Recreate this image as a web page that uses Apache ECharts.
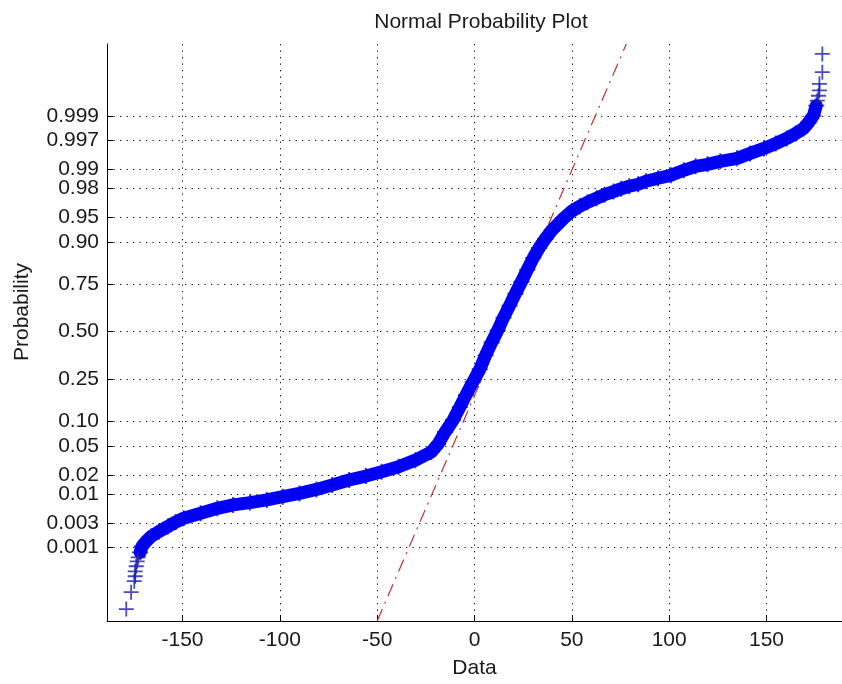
<!DOCTYPE html>
<html><head><meta charset="utf-8">
<script src="https://cdn.jsdelivr.net/npm/echarts@6/dist/echarts.min.js"></script>
<style>html,body{margin:0;padding:0;background:#fff}#c{width:842px;height:684px}</style>
</head><body><div id="c"></div>
<script>
// ---- axis ticks ----
const xTicks = [-150, -100, -50, 0, 50, 100, 150];
const probTickValues = [0.001, 0.003, 0.01, 0.02, 0.05, 0.10, 0.25, 0.50, 0.75, 0.90, 0.95, 0.98, 0.99, 0.997, 0.999];
const probTickLabels = ['0.001', '0.003', '0.01', '0.02', '0.05', '0.10', '0.25', '0.50', '0.75', '0.90', '0.95', '0.98', '0.99', '0.997', '0.999'];

// ---- data: data value (x) and normal quantile of plotting position (z) ----
const lowTailX = [-178.9, -176.4, -174.8, -174.3, -174.3, -173.8, -173.3, -172.8];
const lowTailZ = [-3.973, -3.731, -3.574, -3.503, -3.432, -3.360, -3.289, -3.232];

const bandX = [-171.8, -170.8, -168.7, -166.2, -162.1, -157.5, -153.5, -149.4, -140.7, -132.1, -124.0, -115.3, -106.7, -98.5, -89.9, -81.2, -73.1, -64.4, -55.8, -47.7, -39.0, -30.4, -22.2, -18.7, -15.1, -11.0, -7.5, -4.4, -0.9, 2.7, 5.7, 8.8, 11.9, 14.9, 18.0, 21.0, 24.1, 27.1, 30.2, 33.2, 36.3, 39.8, 43.4, 45.9, 50.0, 54.1, 58.1, 62.7, 66.8, 71.4, 75.4, 79.5, 84.1, 88.1, 94.3, 100.9, 107.5, 113.6, 119.7, 126.3, 134.9, 141.6, 148.7, 154.8, 160.4, 165.0, 169.0, 171.6, 174.1, 175.6];
const bandZ = [-3.161, -3.075, -3.004, -2.933, -2.862, -2.790, -2.726, -2.672, -2.601, -2.530, -2.481, -2.448, -2.410, -2.363, -2.316, -2.259, -2.196, -2.125, -2.068, -2.007, -1.935, -1.840, -1.722, -1.608, -1.437, -1.266, -1.080, -0.909, -0.724, -0.539, -0.339, -0.154, 0.017, 0.202, 0.373, 0.544, 0.715, 0.886, 1.057, 1.200, 1.328, 1.456, 1.556, 1.627, 1.727, 1.798, 1.855, 1.912, 1.962, 2.008, 2.048, 2.083, 2.112, 2.155, 2.198, 2.240, 2.312, 2.369, 2.397, 2.440, 2.483, 2.554, 2.625, 2.696, 2.768, 2.839, 2.910, 2.996, 3.095, 3.238];

const highTailX = [176.1, 176.7, 177.2, 177.2, 178.7, 178.7];
const highTailZ = [3.309, 3.380, 3.456, 3.551, 3.718, 3.979];

// reference line (through quartiles, extended)
const refLineX = [-50, 78];
const refLineZ = [-4.144, 4.121];

// ---- inverse standard normal CDF (probability axis scale) ----
function norminv(p) {
  const a = [-3.969683028665376e+01, 2.209460984245205e+02, -2.759285104469687e+02, 1.383577518672690e+02, -3.066479806614716e+01, 2.506628277459239e+00];
  const b = [-5.447609879822406e+01, 1.615858368580409e+02, -1.556989798598866e+02, 6.680131188771972e+01, -1.328068155288572e+01];
  const c = [-7.784894002430293e-03, -3.223964580411365e-01, -2.400758277161838e+00, -2.549732539343734e+00, 4.374664141464968e+00, 2.938163982698783e+00];
  const d = [7.784695709041462e-03, 3.224671290700398e-01, 2.445134137142996e+00, 3.754408661907416e+00];
  const pl = 0.02425, ph = 1 - pl;
  let q, r;
  if (p < pl) { q = Math.sqrt(-2 * Math.log(p)); return (((((c[0]*q+c[1])*q+c[2])*q+c[3])*q+c[4])*q+c[5]) / ((((d[0]*q+d[1])*q+d[2])*q+d[3])*q+1); }
  if (p <= ph) { q = p - 0.5; r = q*q; return (((((a[0]*r+a[1])*r+a[2])*r+a[3])*r+a[4])*r+a[5])*q / (((((b[0]*r+b[1])*r+b[2])*r+b[3])*r+b[4])*r+1); }
  q = Math.sqrt(-2 * Math.log(1 - p));
  return -(((((c[0]*q+c[1])*q+c[2])*q+c[3])*q+c[4])*q+c[5]) / ((((d[0]*q+d[1])*q+d[2])*q+d[3])*q+1);
}
const probTickZ = probTickValues.map(norminv);
function probLabel(v) {
  let best = 0;
  for (let i = 1; i < probTickZ.length; i++) if (Math.abs(probTickZ[i] - v) < Math.abs(probTickZ[best] - v)) best = i;
  return probTickLabels[best];
}
const zip = (xs, ys) => xs.map((x, i) => [x, ys[i]]);

const FONT = '"Liberation Sans", Arial, Helvetica, sans-serif';
const TXT = '#1a1a1a';
const gridLine = { show: true, lineStyle: { color: '#111', width: 1, type: [1.3, 5.2] } };
const PLUS = 'path://M0,4.4H10V5.6H0Z M4.4,0H5.6V10H4.4Z';

const chart = echarts.init(document.getElementById('c'), null, { renderer: 'canvas' });
chart.setOption({
  animation: false,
  backgroundColor: '#fff',
  title: {
    text: 'Normal Probability Plot',
    left: 476, top: 7, textAlign: 'center',
    textStyle: { fontFamily: FONT, fontSize: 21, fontWeight: 'normal', color: TXT }
  },
  grid: { left: 107, right: -5, top: 44, bottom: 59, containLabel: false },
  xAxis: {
    type: 'value', min: -188.8, max: 188.8,
    name: 'Data', nameLocation: 'middle', nameGap: 37,
    nameTextStyle: { fontFamily: FONT, fontSize: 21, color: TXT },
    axisLine: { show: true, onZero: false, lineStyle: { color: '#000', width: 1 } },
    axisTick: { show: true, inside: true, length: 6, customValues: xTicks, lineStyle: { color: '#000' } },
    axisLabel: { customValues: xTicks, margin: 9, fontFamily: FONT, fontSize: 21, color: TXT },
    splitLine: gridLine
  },
  yAxis: {
    type: 'value', min: -4.144, max: 4.121,
    axisLine: { show: true, onZero: false, lineStyle: { color: '#000', width: 1 } },
    axisTick: { show: true, inside: true, length: 6, customValues: probTickZ, lineStyle: { color: '#000' } },
    axisLabel: { customValues: probTickZ, margin: 8, fontFamily: FONT, fontSize: 21, color: TXT, formatter: probLabel },
    splitLine: gridLine
  },
  graphic: [{
    type: 'text', x: 22, y: 312, rotation: Math.PI / 2,
    style: { text: 'Probability', fontFamily: FONT, fontSize: 21, fill: TXT, align: 'center', verticalAlign: 'middle' }
  }],
  series: [
    {
      type: 'line', data: zip(refLineX, refLineZ), showSymbol: false, z: 1,
      lineStyle: { color: '#c4302c', width: 1.2, type: [13, 6, 2, 6] }
    },
    {
      type: 'line', data: zip(bandX, bandZ), showSymbol: false, z: 2, smooth: false,
      lineStyle: { color: '#0000ff', width: 13, cap: 'round', join: 'round' }
    },
    {
      type: 'scatter', data: zip(bandX, bandZ),
      symbol: PLUS, symbolSize: 16, z: 3,
      itemStyle: { color: '#0000e0' }
    },
    {
      type: 'scatter', data: zip(lowTailX, lowTailZ).concat(zip(highTailX, highTailZ)),
      symbol: PLUS, symbolSize: 15, z: 3,
      itemStyle: { color: '#1c1cb0' }
    }
  ]
});
</script></body></html>
